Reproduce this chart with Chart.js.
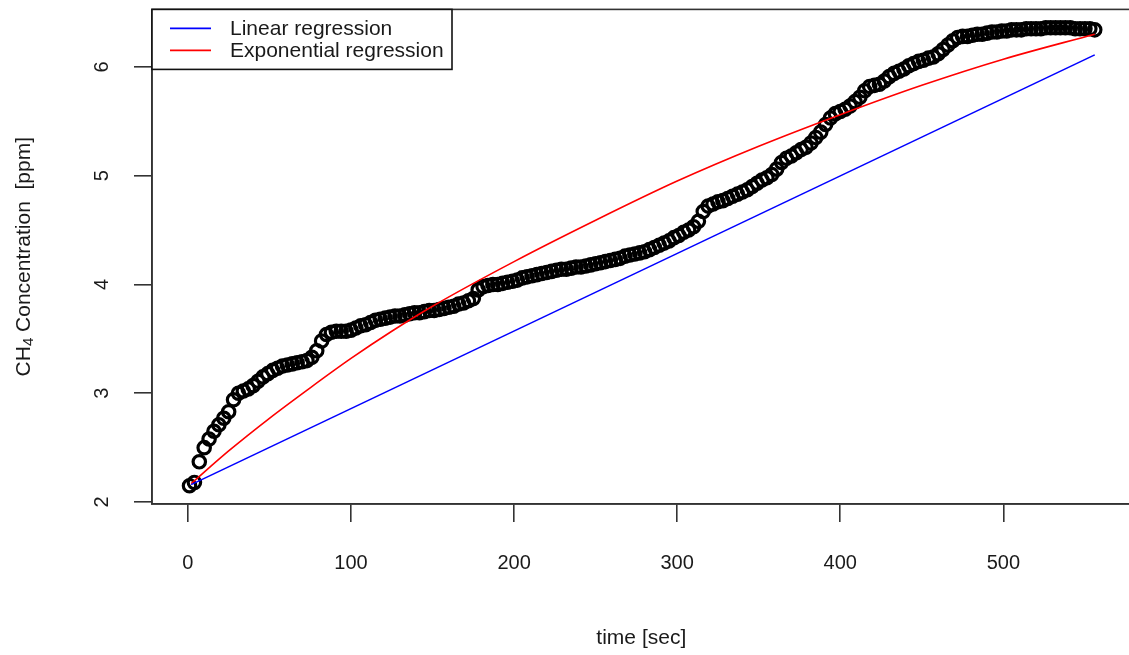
<!DOCTYPE html>
<html>
<head>
<meta charset="utf-8">
<script src="https://cdn.jsdelivr.net/npm/chart.js@4.4.1/dist/chart.umd.min.js"></script>
<style>
  html, body { margin: 0; padding: 0; background: #fff; overflow: hidden; }
  #wrap { width: 1140px; height: 655px; }
</style>
</head>
<body>
<div id="wrap"><canvas id="chart" width="1140" height="655"></canvas></div>
<script>
// measured CH4 concentration (ppm) vs time (sec)
const times = [
  1, 4, 7, 10, 13, 16, 19, 22, 25, 28, 31, 34, 37, 40, 43, 46, 49, 52, 55, 58,
  61, 64, 67, 70, 73, 76, 79, 82, 85, 88, 91, 94, 97, 100, 103, 106, 109, 112, 115, 118,
  121, 124, 127, 130, 133, 136, 139, 142, 145, 148, 151, 154, 157, 160, 163, 166, 169, 172, 175, 178,
  181, 184, 187, 190, 193, 196, 199, 202, 205, 208, 211, 214, 217, 220, 223, 226, 229, 232, 235, 238,
  241, 244, 247, 250, 253, 256, 259, 262, 265, 268, 271, 274, 277, 280, 283, 286, 289, 292, 295, 298,
  301, 304, 307, 310, 313, 316, 319, 322, 325, 328, 331, 334, 337, 340, 343, 346, 349, 352, 355, 358,
  361, 364, 367, 370, 373, 376, 379, 382, 385, 388, 391, 394, 397, 400, 403, 406, 409, 412, 415, 418,
  421, 424, 427, 430, 433, 436, 439, 442, 445, 448, 451, 454, 457, 460, 463, 466, 469, 472, 475, 478,
  481, 484, 487, 490, 493, 496, 499, 502, 505, 508, 511, 514, 517, 520, 523, 526, 529, 532, 535, 538,
  541, 544, 547, 550, 553, 556
];
const conc = [
  2.15, 2.18, 2.37, 2.50, 2.58, 2.65, 2.71, 2.77, 2.83, 2.94, 3.00, 3.02, 3.04, 3.07, 3.11, 3.15, 3.18, 3.21, 3.23, 3.25,
  3.26, 3.27, 3.28, 3.29, 3.30, 3.33, 3.39, 3.48, 3.54, 3.56, 3.57, 3.57, 3.57, 3.58, 3.60, 3.62, 3.63, 3.65, 3.67, 3.68,
  3.69, 3.70, 3.71, 3.71, 3.72, 3.73, 3.74, 3.74, 3.75, 3.76, 3.76, 3.77, 3.78, 3.79, 3.80, 3.82, 3.83, 3.85, 3.87, 3.95,
  3.98, 3.99, 4.00, 4.00, 4.01, 4.02, 4.03, 4.04, 4.06, 4.07, 4.08, 4.09, 4.10, 4.11, 4.12, 4.13, 4.14, 4.14, 4.15, 4.16,
  4.16, 4.17, 4.18, 4.19, 4.20, 4.21, 4.22, 4.23, 4.24, 4.26, 4.27, 4.28, 4.29, 4.30, 4.32, 4.34, 4.36, 4.38, 4.40, 4.43,
  4.45, 4.48, 4.50, 4.53, 4.58, 4.67, 4.72, 4.74, 4.76, 4.77, 4.79, 4.81, 4.83, 4.85, 4.87, 4.90, 4.93, 4.96, 4.98, 5.01,
  5.06, 5.12, 5.16, 5.18, 5.21, 5.24, 5.26, 5.30, 5.35, 5.40, 5.47, 5.53, 5.57, 5.59, 5.61, 5.64, 5.68, 5.72, 5.78, 5.82,
  5.83, 5.84, 5.87, 5.91, 5.94, 5.96, 5.98, 6.01, 6.03, 6.05, 6.06, 6.08, 6.09, 6.12, 6.16, 6.20, 6.24, 6.27, 6.28, 6.28,
  6.29, 6.30, 6.30, 6.31, 6.32, 6.32, 6.33, 6.33, 6.34, 6.34, 6.34, 6.35, 6.35, 6.35, 6.35, 6.36, 6.36, 6.36, 6.36, 6.36,
  6.36, 6.35, 6.35, 6.35, 6.35, 6.34
];

// fitted curves
const linTimes = [2, 556];
const linValues = [2.16, 6.11];
const expTimes = [2, 25, 50, 75, 100, 125, 150, 200, 250, 300, 350, 400, 450, 500, 556];
const expValues = [2.17, 2.47, 2.77, 3.05, 3.32, 3.57, 3.80, 4.21, 4.59, 4.95, 5.27, 5.56, 5.83, 6.07, 6.30];

const xTickValues = [0, 100, 200, 300, 400, 500];
const yTickValues = [2, 3, 4, 5, 6];
const legendLabels = ['Linear regression', 'Exponential regression'];

const FONT = '"Liberation Sans", Arial, sans-serif';
const INK = '#1a1a1a';

const toPoints = (xs, ys) => xs.map((x, i) => ({ x: x, y: ys[i] }));

// R-style frame, axis labels and legend
const rFrame = {
  id: 'rFrame',
  afterDraw(chart) {
    const ctx = chart.ctx;
    const area = chart.chartArea;
    const xs = chart.scales.x;
    const ys = chart.scales.y;

    ctx.save();
    ctx.strokeStyle = '#333';
    ctx.lineWidth = 1.6;
    ctx.strokeRect(area.left, area.top, area.right - area.left, area.bottom - area.top);

    ctx.fillStyle = INK;
    ctx.font = '20px ' + FONT;
    ctx.textAlign = 'center';
    ctx.textBaseline = 'middle';
    xTickValues.forEach(v => {
      ctx.fillText(String(v), xs.getPixelForValue(v), 563);
    });
    yTickValues.forEach(v => {
      ctx.save();
      ctx.translate(102, ys.getPixelForValue(v));
      ctx.rotate(-Math.PI / 2);
      ctx.fillText(String(v), 0, 0);
      ctx.restore();
    });

    // x title
    ctx.font = '21px ' + FONT;
    ctx.fillText('time [sec]', (area.left + area.right) / 2, 638);

    // y title with subscript
    const midY = (area.top + area.bottom) / 2;
    ctx.save();
    ctx.translate(24, midY);
    ctx.rotate(-Math.PI / 2);
    const partA = 'CH';
    const partB = '4';
    const partC = ' Concentration  [ppm]';
    ctx.font = '21px ' + FONT;
    const wA = ctx.measureText(partA).width;
    const wC = ctx.measureText(partC).width;
    ctx.font = '15px ' + FONT;
    const wB = ctx.measureText(partB).width;
    const x0 = -(wA + wB + wC) / 2;
    ctx.textAlign = 'left';
    ctx.font = '21px ' + FONT;
    ctx.fillText(partA, x0, 0);
    ctx.font = '15px ' + FONT;
    ctx.fillText(partB, x0 + wA, 5);
    ctx.font = '21px ' + FONT;
    ctx.fillText(partC, x0 + wA + wB, 0);
    ctx.restore();

    // legend box
    const lx = area.left, ly = area.top;
    ctx.fillStyle = '#fff';
    ctx.fillRect(lx, ly, 300, 60);
    ctx.strokeStyle = '#111';
    ctx.lineWidth = 1.6;
    ctx.strokeRect(lx, ly, 300, 60);
    ctx.font = '21px ' + FONT;
    ctx.textAlign = 'left';
    ctx.fillStyle = INK;
    legendLabels.forEach((label, i) => {
      const ds = chart.data.datasets[i];
      const yy = ly + 19 + i * 22;
      ctx.strokeStyle = ds.borderColor;
      ctx.lineWidth = 1.6;
      ctx.beginPath();
      ctx.moveTo(lx + 18, yy);
      ctx.lineTo(lx + 59, yy);
      ctx.stroke();
      ctx.fillText(label, lx + 78, yy + 1);
    });
    ctx.restore();
  }
};

new Chart(document.getElementById('chart'), {
  type: 'scatter',
  data: {
    datasets: [
      {
        label: legendLabels[0],
        data: toPoints(linTimes, linValues),
        showLine: true,
        borderColor: '#0000ff',
        borderWidth: 1.6,
        pointRadius: 0,
        fill: false,
      },
      {
        label: legendLabels[1],
        data: toPoints(expTimes, expValues),
        showLine: true,
        borderColor: '#ff0000',
        borderWidth: 1.6,
        pointRadius: 0,
        cubicInterpolationMode: 'monotone',
        fill: false,
      },
      {
        label: 'CH4',
        data: toPoints(times, conc),
        pointStyle: 'circle',
        pointRadius: 6.2,
        borderWidth: 3.2,
        borderColor: '#000',
        backgroundColor: 'rgba(0,0,0,0)',
      }
    ]
  },
  options: {
    responsive: false,
    animation: false,
    events: [],
    layout: { padding: { top: 9, right: 6, left: 0, bottom: 0 } },
    plugins: {
      legend: { display: false },
      tooltip: { enabled: false },
    },
    scales: {
      x: {
        type: 'linear',
        min: -22,
        max: 578,
        afterBuildTicks: s => { s.ticks = xTickValues.map(v => ({ value: v })); },
        afterFit: s => { s.height = 655 - 504; },
        ticks: { display: false },
        grid: { display: true, drawOnChartArea: false, drawTicks: true, tickLength: 18, color: '#333', lineWidth: 1.6 },
        border: { display: true, color: '#333', width: 1.6 },
      },
      y: {
        type: 'linear',
        min: 1.982,
        max: 6.528,
        afterBuildTicks: s => { s.ticks = yTickValues.map(v => ({ value: v })); },
        afterFit: s => { s.width = 152; },
        ticks: { display: false },
        grid: { display: true, drawOnChartArea: false, drawTicks: true, tickLength: 18, color: '#333', lineWidth: 1.6 },
        border: { display: true, color: '#333', width: 1.6 },
      }
    }
  },
  plugins: [rFrame]
});
</script>
</body>
</html>
